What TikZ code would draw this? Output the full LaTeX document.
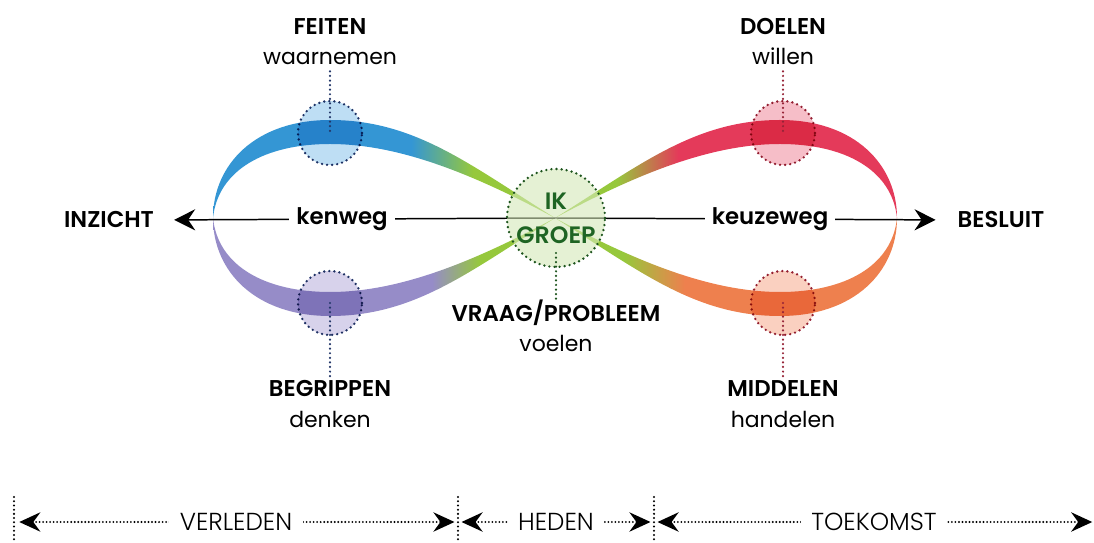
\documentclass[tikz,border=0pt]{standalone}
\usepackage{fontspec}
\setmainfont{Poppins}[BoldFont={Poppins SemiBold}]
\newfontfamily\timefont{Poppins Light}
\usetikzlibrary{arrows.meta,calc}

\definecolor{bandblue}{RGB}{52,150,212}
\definecolor{bandpurple}{RGB}{150,140,200}
\definecolor{bandred}{RGB}{228,58,90}
\definecolor{bandorange}{RGB}{238,128,78}
\definecolor{bandgreen}{RGB}{150,200,60}
\definecolor{dotblue}{RGB}{35,55,105}
\definecolor{dotred}{RGB}{150,35,55}
\definecolor{dotgreen}{RGB}{30,85,30}
\definecolor{ikgreen}{RGB}{30,100,35}
\definecolor{fillblue}{RGB}{190,222,244}
\definecolor{fillpurple}{RGB}{215,210,235}
\definecolor{fillred}{RGB}{246,190,200}
\definecolor{fillorange}{RGB}{250,208,192}
\definecolor{fillgreen}{RGB}{212,232,184}

\pgfdeclarehorizontalshading{blueband}{100bp}{color(0bp)=(bandblue); color(54bp)=(bandblue); color(63bp)=(bandgreen); color(100bp)=(bandgreen)}
\pgfdeclarehorizontalshading{purpleband}{100bp}{color(0bp)=(bandpurple); color(57bp)=(bandpurple); color(64bp)=(bandgreen); color(100bp)=(bandgreen)}
\pgfdeclarehorizontalshading{redband}{100bp}{color(0bp)=(bandgreen); color(34bp)=(bandgreen); color(43bp)=(bandred); color(100bp)=(bandred)}
\pgfdeclarehorizontalshading{orangeband}{100bp}{color(0bp)=(bandgreen); color(35bp)=(bandgreen); color(44bp)=(bandorange); color(100bp)=(bandorange)}

\tikzset{
	title/.style={font=\fontsize{13}{15}\selectfont\bfseries, anchor=base},
	verb/.style={font=\fontsize{12.5}{15}\selectfont, anchor=base},
	spot/.style={circle, minimum size=1.28cm, line width=1.5pt, dash pattern=on 0pt off 2.9pt, line cap=round},
	dotline/.style={line width=1.4pt, dash pattern=on 0pt off 2.6pt, line cap=round},
	pathline/.style={line width=0.85pt, -{Stealth[length=12pt,width=12pt,inset=4pt]}},
	tick/.style={line width=1.3pt, dash pattern=on 0pt off 2.4pt, line cap=round},
	timearrow/.style={line width=1.2pt, dash pattern=on 0pt off 2pt, line cap=round, {Stealth[length=12pt,width=11pt,inset=4pt]}-{Stealth[length=12pt,width=11pt,inset=4pt]}},
	timetext/.style={font=\timefont\fontsize{14}{16}\selectfont, fill=white, inner xsep=6pt}
}

\begin{document}
\begin{tikzpicture}[x=0.02cm, y=-0.02cm]
	%%%%% START %%%%%
	\useasboundingbox (0, 0) rectangle (1094, 543);
	
	% ribbon
	\shade[shading=blueband] (555, 218) .. controls (470, 165) and (415, 120) .. (330, 120) .. controls (255, 120) and (213, 165) .. (213, 218) .. controls (218, 170) and (265, 144) .. (330, 144) .. controls (400, 144) and (475, 175) .. (555, 218) -- cycle;
	\shade[shading=purpleband] (555, 218) .. controls (470, 271) and (415, 316) .. (330, 316) .. controls (255, 316) and (213, 271) .. (213, 218) .. controls (218, 266) and (265, 292) .. (330, 292) .. controls (400, 292) and (475, 261) .. (555, 218) -- cycle;
	\shade[shading=redband] (555, 218) .. controls (640, 165) and (695, 120) .. (780, 120) .. controls (855, 120) and (897, 165) .. (897, 218) .. controls (892, 170) and (845, 144) .. (780, 144) .. controls (710, 144) and (635, 175) .. (555, 218) -- cycle;
	\shade[shading=orangeband] (555, 218) .. controls (640, 271) and (695, 316) .. (780, 316) .. controls (855, 316) and (897, 271) .. (897, 218) .. controls (892, 266) and (845, 292) .. (780, 292) .. controls (710, 292) and (635, 261) .. (555, 218) -- cycle;
	
	% end points
	\node[title] (inzicht) at (109, 228) {INZICHT};
	\node[title] (besluit) at (1001, 228) {BESLUIT};
	\coordinate (mid) at (556, 218);
	
	\draw[pathline, shorten >=8pt] (mid) -- (inzicht.east);
	\draw[pathline, shorten >=9pt] (mid) -- (besluit.west);
	\node[title, fill=white, inner xsep=4pt] (kenweg) at (342, 225) {kenweg};
	\node[title, fill=white, inner xsep=4pt] (keuzeweg) at (770, 225) {keuzeweg};
	
	% spots
	\begin{scope}[blend mode=multiply]
		\node[spot, draw=dotblue, fill=fillblue] (feitenspot) at (330, 133) {};
		\node[spot, draw=dotblue, fill=fillpurple] (begrippenspot) at (330, 303) {};
		\node[spot, draw=dotred, fill=fillred] (doelenspot) at (783, 133) {};
		\node[spot, draw=dotred, fill=fillorange] (middelenspot) at (783, 303) {};
	\end{scope}
	\node[spot, minimum size=1.96cm, fill=fillgreen, fill opacity=0.6, text opacity=1, draw=dotgreen, align=center, inner sep=0pt, text=ikgreen, font=\fontsize{13.5}{19.5}\selectfont\bfseries] (ik) at (mid) {IK\\GROEP};
	
	% labels
	\node[title] (feiten) at (330, 35) {FEITEN};
	\node[verb] (waarnemen) at (330, 65) {waarnemen};
	\node[title] (doelen) at (783, 35) {DOELEN};
	\node[verb] (willen) at (783, 65) {willen};
	\node[title] (begrippen) at (330, 397) {BEGRIPPEN};
	\node[verb] (denken) at (330, 427) {denken};
	\node[title] (middelen) at (783, 397) {MIDDELEN};
	\node[verb] (handelen) at (783, 427) {handelen};
	\node[title] (vraag) at (556, 322) {VRAAG/PROBLEEM};
	\node[verb] (voelen) at (556, 352) {voelen};
	
	\draw[dotline, dotblue] (waarnemen.south) -- (feitenspot.center);
	\draw[dotline, dotred] (willen.south) -- (doelenspot.center);
	\draw[dotline, dotblue] (begrippenspot.center) -- ([yshift=-3pt]begrippen.north);
	\draw[dotline, dotred] (middelenspot.center) -- ([yshift=-3pt]middelen.north);
	\draw[dotline, dotgreen] ($(ik.center)+(0, 35)$) -- ([yshift=-3pt]vraag.north);
	
	% timeline
	\coordinate (t0) at (14, 522);
	\coordinate (t1) at (458, 522);
	\coordinate (t2) at (654, 522);
	\coordinate (t3) at (1094, 522);
	\foreach \t in {t0, t1, t2}
		\draw[tick] ($(\t)+(0, -25)$) -- ($(\t)+(0, 21)$);
	\draw[timearrow, shorten <=3pt, shorten >=2pt] (t0) -- (t1) node[midway, timetext] (verleden) {VERLEDEN};
	\draw[timearrow, shorten <=2pt, shorten >=2pt] (t1) -- (t2) node[midway, timetext] (heden) {HEDEN};
	\draw[timearrow, shorten <=2pt, shorten >=1pt] (t2) -- (t3) node[midway, timetext] (toekomst) {TOEKOMST};
	
	%%%%% END %%%%%
\end{tikzpicture}
\end{document}
